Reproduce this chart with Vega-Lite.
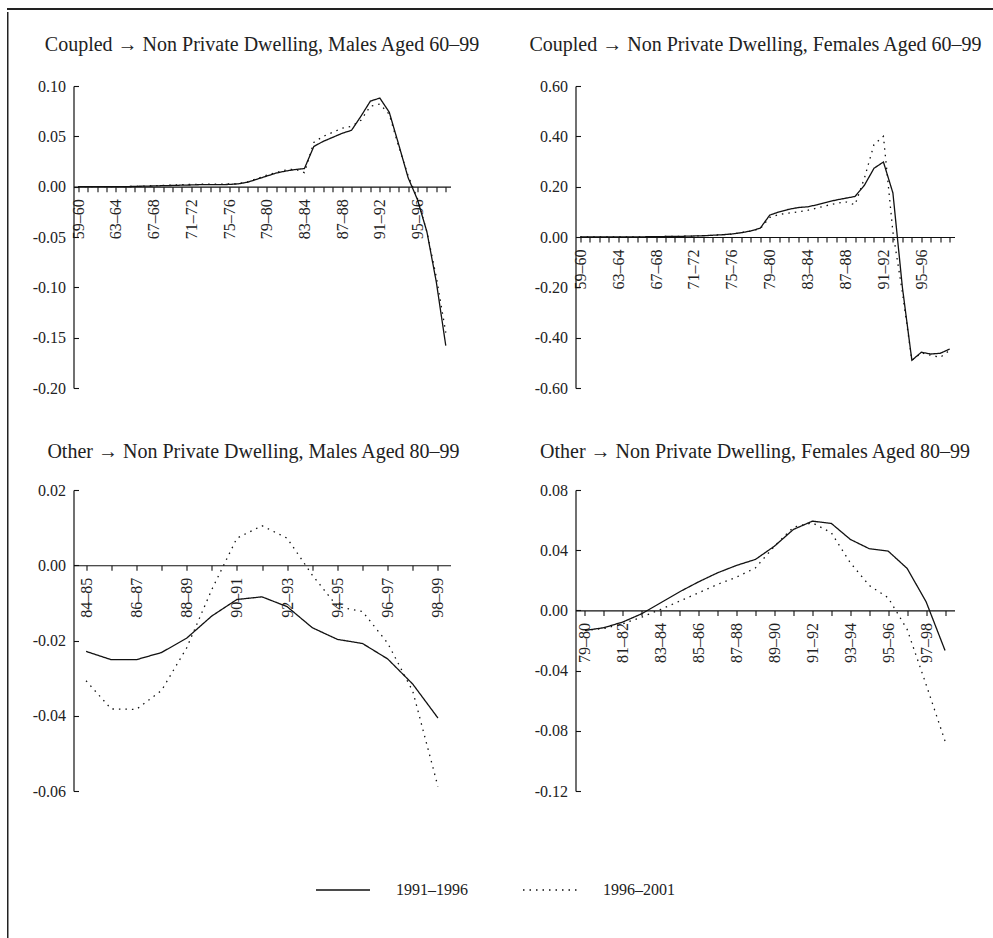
{
  "$schema": "https://vega.github.io/schema/vega-lite/v6.json",
  "padding": {"left": 7, "top": 6, "right": 0, "bottom": 0},
  "background": "white",
  "config": {
    "view": {"stroke": null},
    "title": {"font": "Liberation Serif", "fontSize": 20, "fontWeight": "normal", "color": "#222", "baseline": "alphabetic", "frame": "group", "anchor": "middle"},
    "axis": {"labelFont": "Liberation Serif", "labelFontSize": 16, "labelColor": "#222", "domainColor": "#111", "tickColor": "#111", "domainWidth": 1.2, "tickWidth": 1.1, "grid": false, "title": null},
    "axisX": {"labelAngle": -90, "tickSize": 5, "labelPadding": 7, "labelOverlap": false, "labelFlush": false},
    "axisY": {"tickSize": -5, "labelPadding": 13, "labelExpr": "(datum.value<0?'-':'')+format(abs(datum.value),'.2f')"},
    "legend": {"labelFont": "Liberation Serif", "labelFontSize": 16, "labelColor": "#222"}
  },
  "datasets": {
    "p1": [
      {"cat":"59–60","period":"1991–1996","v":0},{"cat":"60–61","period":"1991–1996","v":0},{"cat":"61–62","period":"1991–1996","v":0},{"cat":"62–63","period":"1991–1996","v":0},{"cat":"63–64","period":"1991–1996","v":0},{"cat":"64–65","period":"1991–1996","v":0},{"cat":"65–66","period":"1991–1996","v":0.0003},{"cat":"66–67","period":"1991–1996","v":0.0005},{"cat":"67–68","period":"1991–1996","v":0.0007},{"cat":"68–69","period":"1991–1996","v":0.001},
      {"cat":"69–70","period":"1991–1996","v":0.0012},{"cat":"70–71","period":"1991–1996","v":0.0015},{"cat":"71–72","period":"1991–1996","v":0.0017},{"cat":"72–73","period":"1991–1996","v":0.002},{"cat":"73–74","period":"1991–1996","v":0.002},{"cat":"74–75","period":"1991–1996","v":0.002},{"cat":"75–76","period":"1991–1996","v":0.0022},{"cat":"76–77","period":"1991–1996","v":0.0028},{"cat":"77–78","period":"1991–1996","v":0.0045},{"cat":"78–79","period":"1991–1996","v":0.0075},
      {"cat":"79–80","period":"1991–1996","v":0.0105},{"cat":"80–81","period":"1991–1996","v":0.0135},{"cat":"81–82","period":"1991–1996","v":0.0155},{"cat":"82–83","period":"1991–1996","v":0.017},{"cat":"83–84","period":"1991–1996","v":0.018},{"cat":"84–85","period":"1991–1996","v":0.04},{"cat":"85–86","period":"1991–1996","v":0.045},{"cat":"86–87","period":"1991–1996","v":0.049},{"cat":"87–88","period":"1991–1996","v":0.053},{"cat":"88–89","period":"1991–1996","v":0.056},
      {"cat":"89–90","period":"1991–1996","v":0.07},{"cat":"90–91","period":"1991–1996","v":0.085},{"cat":"91–92","period":"1991–1996","v":0.088},{"cat":"92–93","period":"1991–1996","v":0.074},{"cat":"93–94","period":"1991–1996","v":0.042},{"cat":"94–95","period":"1991–1996","v":0.009},{"cat":"95–96","period":"1991–1996","v":-0.013},{"cat":"96–97","period":"1991–1996","v":-0.045},{"cat":"97–98","period":"1991–1996","v":-0.095},{"cat":"98–99","period":"1991–1996","v":-0.158},
      {"cat":"59–60","period":"1996–2001","v":0},{"cat":"60–61","period":"1996–2001","v":0},{"cat":"61–62","period":"1996–2001","v":0},{"cat":"62–63","period":"1996–2001","v":0},{"cat":"63–64","period":"1996–2001","v":0},{"cat":"64–65","period":"1996–2001","v":0},{"cat":"65–66","period":"1996–2001","v":0.0003},{"cat":"66–67","period":"1996–2001","v":0.0006},{"cat":"67–68","period":"1996–2001","v":0.001},{"cat":"68–69","period":"1996–2001","v":0.0013},
      {"cat":"69–70","period":"1996–2001","v":0.0016},{"cat":"70–71","period":"1996–2001","v":0.002},{"cat":"71–72","period":"1996–2001","v":0.0022},{"cat":"72–73","period":"1996–2001","v":0.0024},{"cat":"73–74","period":"1996–2001","v":0.0025},{"cat":"74–75","period":"1996–2001","v":0.0025},{"cat":"75–76","period":"1996–2001","v":0.0027},{"cat":"76–77","period":"1996–2001","v":0.003},{"cat":"77–78","period":"1996–2001","v":0.005},{"cat":"78–79","period":"1996–2001","v":0.008},
      {"cat":"79–80","period":"1996–2001","v":0.0115},{"cat":"80–81","period":"1996–2001","v":0.014},{"cat":"81–82","period":"1996–2001","v":0.0165},{"cat":"82–83","period":"1996–2001","v":0.0175},{"cat":"83–84","period":"1996–2001","v":0.014},{"cat":"84–85","period":"1996–2001","v":0.044},{"cat":"85–86","period":"1996–2001","v":0.05},{"cat":"86–87","period":"1996–2001","v":0.054},{"cat":"87–88","period":"1996–2001","v":0.058},{"cat":"88–89","period":"1996–2001","v":0.06},
      {"cat":"89–90","period":"1996–2001","v":0.066},{"cat":"90–91","period":"1996–2001","v":0.08},{"cat":"91–92","period":"1996–2001","v":0.082},{"cat":"92–93","period":"1996–2001","v":0.072},{"cat":"93–94","period":"1996–2001","v":0.04},{"cat":"94–95","period":"1996–2001","v":0.011},{"cat":"95–96","period":"1996–2001","v":-0.012},{"cat":"96–97","period":"1996–2001","v":-0.045},{"cat":"97–98","period":"1996–2001","v":-0.09},{"cat":"98–99","period":"1996–2001","v":-0.145}
    ],
    "p2": [
      {"cat":"59–60","period":"1991–1996","v":0},{"cat":"60–61","period":"1991–1996","v":0},{"cat":"61–62","period":"1991–1996","v":0},{"cat":"62–63","period":"1991–1996","v":0},{"cat":"63–64","period":"1991–1996","v":0},{"cat":"64–65","period":"1991–1996","v":0},{"cat":"65–66","period":"1991–1996","v":0},{"cat":"66–67","period":"1991–1996","v":0.001},{"cat":"67–68","period":"1991–1996","v":0.001},{"cat":"68–69","period":"1991–1996","v":0.002},
      {"cat":"69–70","period":"1991–1996","v":0.002},{"cat":"70–71","period":"1991–1996","v":0.003},{"cat":"71–72","period":"1991–1996","v":0.004},{"cat":"72–73","period":"1991–1996","v":0.005},{"cat":"73–74","period":"1991–1996","v":0.007},{"cat":"74–75","period":"1991–1996","v":0.009},{"cat":"75–76","period":"1991–1996","v":0.012},{"cat":"76–77","period":"1991–1996","v":0.017},{"cat":"77–78","period":"1991–1996","v":0.024},{"cat":"78–79","period":"1991–1996","v":0.035},
      {"cat":"79–80","period":"1991–1996","v":0.087},{"cat":"80–81","period":"1991–1996","v":0.1},{"cat":"81–82","period":"1991–1996","v":0.11},{"cat":"82–83","period":"1991–1996","v":0.117},{"cat":"83–84","period":"1991–1996","v":0.12},{"cat":"84–85","period":"1991–1996","v":0.128},{"cat":"85–86","period":"1991–1996","v":0.138},{"cat":"86–87","period":"1991–1996","v":0.147},{"cat":"87–88","period":"1991–1996","v":0.154},{"cat":"88–89","period":"1991–1996","v":0.161},
      {"cat":"89–90","period":"1991–1996","v":0.206},{"cat":"90–91","period":"1991–1996","v":0.273},{"cat":"91–92","period":"1991–1996","v":0.298},{"cat":"92–93","period":"1991–1996","v":0.175},{"cat":"93–94","period":"1991–1996","v":-0.2},{"cat":"94–95","period":"1991–1996","v":-0.49},{"cat":"95–96","period":"1991–1996","v":-0.458},{"cat":"96–97","period":"1991–1996","v":-0.465},{"cat":"97–98","period":"1991–1996","v":-0.462},{"cat":"98–99","period":"1991–1996","v":-0.445},
      {"cat":"59–60","period":"1996–2001","v":0},{"cat":"60–61","period":"1996–2001","v":0},{"cat":"61–62","period":"1996–2001","v":0},{"cat":"62–63","period":"1996–2001","v":0},{"cat":"63–64","period":"1996–2001","v":0},{"cat":"64–65","period":"1996–2001","v":0},{"cat":"65–66","period":"1996–2001","v":0},{"cat":"66–67","period":"1996–2001","v":0.001},{"cat":"67–68","period":"1996–2001","v":0.001},{"cat":"68–69","period":"1996–2001","v":0.002},
      {"cat":"69–70","period":"1996–2001","v":0.002},{"cat":"70–71","period":"1996–2001","v":0.003},{"cat":"71–72","period":"1996–2001","v":0.004},{"cat":"72–73","period":"1996–2001","v":0.005},{"cat":"73–74","period":"1996–2001","v":0.007},{"cat":"74–75","period":"1996–2001","v":0.009},{"cat":"75–76","period":"1996–2001","v":0.012},{"cat":"76–77","period":"1996–2001","v":0.017},{"cat":"77–78","period":"1996–2001","v":0.024},{"cat":"78–79","period":"1996–2001","v":0.033},
      {"cat":"79–80","period":"1996–2001","v":0.078},{"cat":"80–81","period":"1996–2001","v":0.09},{"cat":"81–82","period":"1996–2001","v":0.095},{"cat":"82–83","period":"1996–2001","v":0.1},{"cat":"83–84","period":"1996–2001","v":0.106},{"cat":"84–85","period":"1996–2001","v":0.115},{"cat":"85–86","period":"1996–2001","v":0.125},{"cat":"86–87","period":"1996–2001","v":0.133},{"cat":"87–88","period":"1996–2001","v":0.14},{"cat":"88–89","period":"1996–2001","v":0.128},
      {"cat":"89–90","period":"1996–2001","v":0.235},{"cat":"90–91","period":"1996–2001","v":0.367},{"cat":"91–92","period":"1996–2001","v":0.4},{"cat":"92–93","period":"1996–2001","v":0.02},{"cat":"93–94","period":"1996–2001","v":-0.22},{"cat":"94–95","period":"1996–2001","v":-0.49},{"cat":"95–96","period":"1996–2001","v":-0.46},{"cat":"96–97","period":"1996–2001","v":-0.47},{"cat":"97–98","period":"1996–2001","v":-0.478},{"cat":"98–99","period":"1996–2001","v":-0.45}
    ],
    "p3": [
      {"cat":"84–85","period":"1991–1996","v":-0.0229},{"cat":"85–86","period":"1991–1996","v":-0.0251},{"cat":"86–87","period":"1991–1996","v":-0.0251},{"cat":"87–88","period":"1991–1996","v":-0.0232},{"cat":"88–89","period":"1991–1996","v":-0.0194},{"cat":"89–90","period":"1991–1996","v":-0.0135},{"cat":"90–91","period":"1991–1996","v":-0.0091},{"cat":"91–92","period":"1991–1996","v":-0.0084},{"cat":"92–93","period":"1991–1996","v":-0.011},{"cat":"93–94","period":"1991–1996","v":-0.0166},{"cat":"94–95","period":"1991–1996","v":-0.0197},{"cat":"95–96","period":"1991–1996","v":-0.0208},{"cat":"96–97","period":"1991–1996","v":-0.0249},{"cat":"97–98","period":"1991–1996","v":-0.0316},{"cat":"98–99","period":"1991–1996","v":-0.0406},
      {"cat":"84–85","period":"1996–2001","v":-0.0307},{"cat":"85–86","period":"1996–2001","v":-0.0382},{"cat":"86–87","period":"1996–2001","v":-0.0383},{"cat":"87–88","period":"1996–2001","v":-0.0333},{"cat":"88–89","period":"1996–2001","v":-0.022},{"cat":"89–90","period":"1996–2001","v":-0.0065},{"cat":"90–91","period":"1996–2001","v":0.0072},{"cat":"91–92","period":"1996–2001","v":0.0105},{"cat":"92–93","period":"1996–2001","v":0.0072},{"cat":"93–94","period":"1996–2001","v":-0.0026},{"cat":"94–95","period":"1996–2001","v":-0.011},{"cat":"95–96","period":"1996–2001","v":-0.0123},{"cat":"96–97","period":"1996–2001","v":-0.0207},{"cat":"97–98","period":"1996–2001","v":-0.0335},{"cat":"98–99","period":"1996–2001","v":-0.0588}
    ],
    "p4": [
      {"cat":"79–80","period":"1991–1996","v":-0.0133},{"cat":"80–81","period":"1991–1996","v":-0.0115},{"cat":"81–82","period":"1991–1996","v":-0.0077},{"cat":"82–83","period":"1991–1996","v":-0.0022},{"cat":"83–84","period":"1991–1996","v":0.0051},{"cat":"84–85","period":"1991–1996","v":0.0124},{"cat":"85–86","period":"1991–1996","v":0.019},{"cat":"86–87","period":"1991–1996","v":0.025},{"cat":"87–88","period":"1991–1996","v":0.0299},{"cat":"88–89","period":"1991–1996","v":0.0339},
      {"cat":"89–90","period":"1991–1996","v":0.0427},{"cat":"90–91","period":"1991–1996","v":0.0538},{"cat":"91–92","period":"1991–1996","v":0.0593},{"cat":"92–93","period":"1991–1996","v":0.0578},{"cat":"93–94","period":"1991–1996","v":0.0472},{"cat":"94–95","period":"1991–1996","v":0.041},{"cat":"95–96","period":"1991–1996","v":0.0394},{"cat":"96–97","period":"1991–1996","v":0.0279},{"cat":"97–98","period":"1991–1996","v":0.0058},{"cat":"98–99","period":"1991–1996","v":-0.0266},
      {"cat":"79–80","period":"1996–2001","v":-0.0133},{"cat":"80–81","period":"1996–2001","v":-0.012},{"cat":"81–82","period":"1996–2001","v":-0.0089},{"cat":"82–83","period":"1996–2001","v":-0.0044},{"cat":"83–84","period":"1996–2001","v":0.0007},{"cat":"84–85","period":"1996–2001","v":0.0062},{"cat":"85–86","period":"1996–2001","v":0.0117},{"cat":"86–87","period":"1996–2001","v":0.0173},{"cat":"87–88","period":"1996–2001","v":0.0221},{"cat":"88–89","period":"1996–2001","v":0.0283},
      {"cat":"89–90","period":"1996–2001","v":0.0427},{"cat":"90–91","period":"1996–2001","v":0.0553},{"cat":"91–92","period":"1996–2001","v":0.0582},{"cat":"92–93","period":"1996–2001","v":0.0516},{"cat":"93–94","period":"1996–2001","v":0.0317},{"cat":"94–95","period":"1996–2001","v":0.0166},{"cat":"95–96","period":"1996–2001","v":0.0084},{"cat":"96–97","period":"1996–2001","v":-0.0126},{"cat":"97–98","period":"1996–2001","v":-0.0492},{"cat":"98–99","period":"1996–2001","v":-0.0868}
    ]
  },
  "vconcat": [
    {"width": 986, "height": 2, "view": {"fill": "#222", "stroke": null}, "data": {"values": [{}]}, "mark": {"type": "point", "opacity": 0}},
    {
      "hconcat": [
        {"width": 1.5, "height": 928, "view": {"fill": "#222", "stroke": null}, "data": {"values": [{}]}, "mark": {"type": "point", "opacity": 0, "size": 0, "strokeWidth": 0, "filled": true}},
        {
          "vconcat": [
            {"width": 1, "height": 23, "data": {"values": []}, "mark": "point"},
            {
              "concat": [
                {
                  "width": 377, "height": 302,
                  "title": {"text": "Coupled → Non Private Dwelling, Males Aged 60–99", "dx": 0, "offset": 23},
                  "data": {"name": "p1"},
                  "mark": {"type": "line", "strokeWidth": 1.3, "color": "#111"},
                  "encoding": {
                    "x": {"field": "cat", "type": "ordinal", "sort": null, "scale": {"type": "point", "padding": 0.5}, "axis": {"offset": -201.3, "labelExpr": "round(datum.index*39)%4==0 ? datum.label : ''"}},
                    "y": {"field": "v", "type": "quantitative", "scale": {"domain": [-0.2, 0.1], "nice": false, "zero": false}, "axis": {"values": [-0.2, -0.15, -0.1, -0.05, 0, 0.05, 0.1]}},
                    "strokeDash": {"field": "period", "type": "nominal", "scale": {"domain": ["1991–1996", "1996–2001"], "range": [[1, 0], [1.5, 5]]}, "legend": {"orient": "none", "legendX": 308, "legendY": 854, "direction": "horizontal", "title": null, "symbolType": "stroke", "symbolSize": 2916, "symbolStrokeWidth": 1.3, "symbolStrokeColor": "#111", "labelOffset": 25, "columnPadding": 52}}
                  }
                },
                {
                  "width": 379, "height": 302,
                  "title": {"text": "Coupled → Non Private Dwelling, Females Aged 60–99", "dx": -9.5, "offset": 23},
                  "data": {"name": "p2"},
                  "mark": {"type": "line", "strokeWidth": 1.3, "color": "#111"},
                  "encoding": {
                    "x": {"field": "cat", "type": "ordinal", "sort": null, "scale": {"type": "point", "padding": 0.5}, "axis": {"offset": -151, "labelExpr": "round(datum.index*39)%4==0 ? datum.label : ''"}},
                    "y": {"field": "v", "type": "quantitative", "scale": {"domain": [-0.6, 0.6], "nice": false, "zero": false}, "axis": {"values": [-0.6, -0.4, -0.2, 0, 0.2, 0.4, 0.6]}},
                    "strokeDash": {"field": "period", "type": "nominal", "scale": {"domain": ["1991–1996", "1996–2001"], "range": [[1, 0], [1.5, 5]]}, "legend": {"orient": "none", "legendX": 308, "legendY": 854, "direction": "horizontal", "title": null, "symbolType": "stroke", "symbolSize": 2916, "symbolStrokeWidth": 1.3, "symbolStrokeColor": "#111", "labelOffset": 25, "columnPadding": 52}}
                  }
                },
                {
                  "width": 377, "height": 301,
                  "title": {"text": "Other → Non Private Dwelling, Males Aged 80–99", "dx": -8.5, "offset": 20},
                  "data": {"name": "p3"},
                  "mark": {"type": "line", "strokeWidth": 1.3, "color": "#111"},
                  "encoding": {
                    "x": {"field": "cat", "type": "ordinal", "sort": null, "scale": {"type": "point", "padding": 0.5}, "axis": {"offset": -225.75, "labelExpr": "round(datum.index*14)%2==0 ? datum.label : ''"}},
                    "y": {"field": "v", "type": "quantitative", "scale": {"domain": [-0.06, 0.02], "nice": false, "zero": false}, "axis": {"values": [-0.06, -0.04, -0.02, 0, 0.02]}},
                    "strokeDash": {"field": "period", "type": "nominal", "scale": {"domain": ["1991–1996", "1996–2001"], "range": [[1, 0], [1.5, 5]]}, "legend": {"orient": "none", "legendX": 308, "legendY": 854, "direction": "horizontal", "title": null, "symbolType": "stroke", "symbolSize": 2916, "symbolStrokeWidth": 1.3, "symbolStrokeColor": "#111", "labelOffset": 25, "columnPadding": 52}}
                  }
                },
                {
                  "width": 379, "height": 301,
                  "title": {"text": "Other → Non Private Dwelling, Females Aged 80–99", "dx": -10, "offset": 20},
                  "data": {"name": "p4"},
                  "mark": {"type": "line", "strokeWidth": 1.3, "color": "#111"},
                  "encoding": {
                    "x": {"field": "cat", "type": "ordinal", "sort": null, "scale": {"type": "point", "padding": 0.5}, "axis": {"offset": -180.6, "labelExpr": "round(datum.index*19)%2==0 ? datum.label : ''"}},
                    "y": {"field": "v", "type": "quantitative", "scale": {"domain": [-0.12, 0.08], "nice": false, "zero": false}, "axis": {"values": [-0.12, -0.08, -0.04, 0, 0.04, 0.08]}},
                    "strokeDash": {"field": "period", "type": "nominal", "scale": {"domain": ["1991–1996", "1996–2001"], "range": [[1, 0], [1.5, 5]]}, "legend": {"orient": "none", "legendX": 308, "legendY": 854, "direction": "horizontal", "title": null, "symbolType": "stroke", "symbolSize": 2916, "symbolStrokeWidth": 1.3, "symbolStrokeColor": "#111", "labelOffset": 25, "columnPadding": 52}}
                  }
                }
              ],
              "columns": 2,
              "bounds": "flush",
              "spacing": {"row": 102, "column": 125}
            }
          ],
          "spacing": 0
        }
      ],
      "spacing": 22.5
    }
  ],
  "spacing": -2
}
